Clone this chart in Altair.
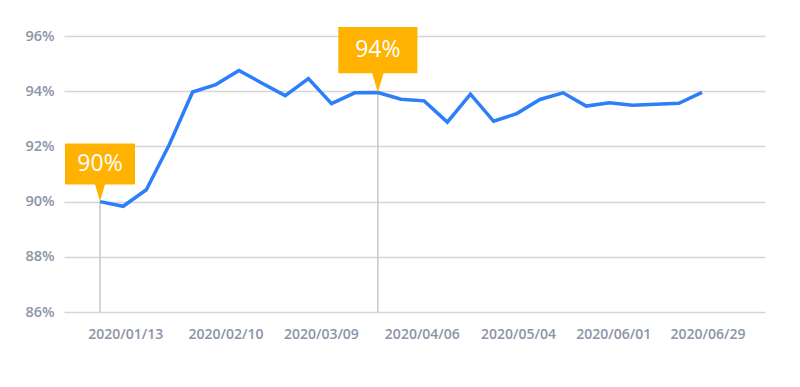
import altair as alt
import pandas as pd

# ---- data ----
week_index = list(range(27))
rate = [90.0, 89.83, 90.43, 92.08, 93.97, 94.24, 94.75, 94.29, 93.84, 94.46,
        93.55, 93.94, 93.95, 93.71, 93.65, 92.88, 93.89, 92.91, 93.19, 93.70,
        93.94, 93.46, 93.58, 93.49, 93.53, 93.56, 93.96]
tick_labels = ["2020/01/13", "2020/02/10", "2020/03/09", "2020/04/06",
               "2020/05/04", "2020/06/01", "2020/06/29"]
tick_pos = [1.09, 5.42, 9.54, 13.90, 18.05, 22.17, 26.24]
y_ticks = [86, 88, 90, 92, 94, 96]
callout_idx = [0, 12]

df = pd.DataFrame({"i": week_index, "v": rate})
ann = df[df["i"].isin(callout_idx)].copy()
ann["label"] = ann["v"].round().astype(int).astype(str) + "%"

LABEL_COLOR = "#8a94a8"
ORANGE = "#ffb300"
BLUE = "#2d7ff9"

pos_js = "[" + ",".join(str(p) for p in tick_pos) + "]"
lab_js = "[" + ",".join("'" + t + "'" for t in tick_labels) + "]"

x_scale = alt.Scale(domain=[-1.555, 28.72], nice=False, zero=False)
y_scale = alt.Scale(domain=[86, 96], nice=False, zero=False)

x_axis = alt.Axis(
    values=tick_pos, labelExpr=f"{lab_js}[indexof({pos_js}, datum.value)]",
    title=None, grid=False, domain=False, ticks=False, labelPadding=15,
    labelFontSize=14, labelColor=LABEL_COLOR, labelFont="Open Sans",
    labelFontWeight=600, labelOverlap=False, labelFlush=False)
y_axis = alt.Axis(
    values=y_ticks, labelExpr="datum.value + '%'", title=None,
    domain=False, ticks=False, labelPadding=10, labelFontSize=14.5,
    labelColor=LABEL_COLOR, labelFont="Open Sans", labelFontWeight=600,
    grid=True, gridColor="#d6d6d6", gridWidth=1.5)

x_enc = alt.X("i:Q", scale=x_scale, axis=x_axis)
y_enc = alt.Y("v:Q", scale=y_scale, axis=y_axis)

rules = alt.Chart(ann).mark_rule(color="#c8c8c8", strokeWidth=1.5).encode(
    x=x_enc, y=y_enc, y2=alt.datum(86))

line = alt.Chart(df).mark_line(color=BLUE, strokeWidth=3.5, strokeJoin="miter").encode(
    x=x_enc, y=y_enc)

callout_path = ("M-0.875,-1.45 L0.875,-1.45 L0.875,-0.425 L0.125,-0.425 "
                "L0,0 L-0.125,-0.425 L-0.875,-0.425 Z")

bubbles = alt.Chart(ann).mark_point(
    shape=callout_path, filled=True, color=ORANGE, opacity=1, strokeWidth=0
).encode(
    x=x_enc, y=y_enc,
    size=alt.condition(alt.datum.i == 0, alt.value(6400), alt.value(8172)))

text1 = alt.Chart(ann).transform_filter(alt.datum.i == 0).mark_text(
    color="white", fontSize=23, font="Open Sans", baseline="middle", dy=-37.5
).encode(x=x_enc, y=y_enc, text="label:N")

text2 = alt.Chart(ann).transform_filter(alt.datum.i != 0).mark_text(
    color="white", fontSize=23, font="Open Sans", baseline="middle", dy=-42.4
).encode(x=x_enc, y=y_enc, text="label:N")

chart = alt.layer(rules, line, bubbles, text1, text2).properties(
    width=701, height=276,
    background="white",
    autosize=alt.AutoSizeParams(type="none"),
    padding={"left": 56, "top": 28, "right": 27, "bottom": 60},
).configure_view(strokeWidth=0)

chart.save("out.html", embed_options={"renderer": "svg", "actions": False})
